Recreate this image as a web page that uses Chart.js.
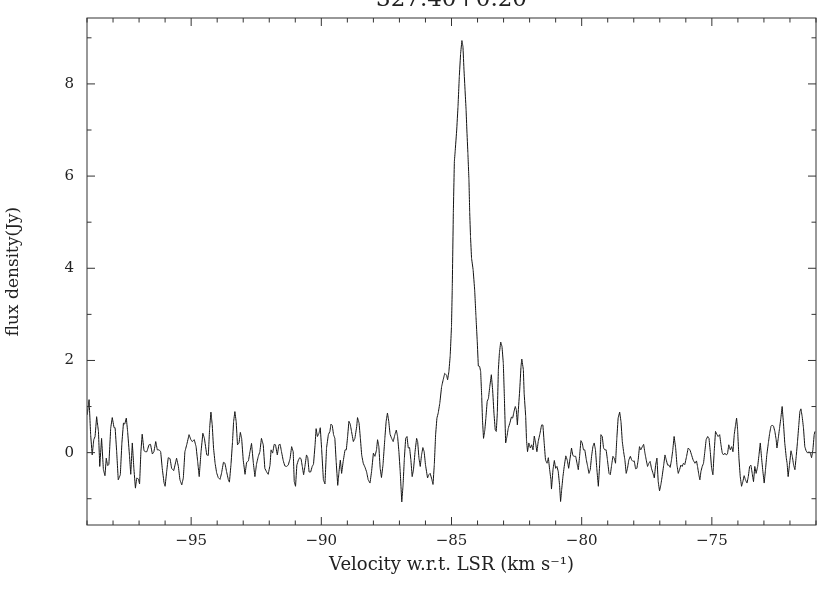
<!DOCTYPE html>
<html lang="en">
  <head>
    <meta charset="UTF-8" />
    <title>327.40+0.20</title>
    <style>
      html,
      body {
        margin: 0;
        padding: 0;
        background: #fff;
      }
      #wrap {
        position: relative;
        width: 822px;
        height: 596px;
      }
    </style>
  </head>
  <body>
    <div id="wrap"><canvas id="spectrum"></canvas></div>

    <script src="https://cdn.jsdelivr.net/npm/chart.js@4.4.0/dist/chart.umd.min.js"></script>
    <script>
      var sourceName = "327.40+0.20";

      // velocity (km/s) and flux density (Jy)
      var velocity = [
        -98.99, -98.92, -98.86, -98.80, -98.74, -98.69, -98.63, -98.56, -98.51, -98.44,
        -98.37, -98.31, -98.26, -98.21, -98.16, -98.09, -98.03, -97.96, -97.92, -97.86,
        -97.80, -97.72, -97.66, -97.60, -97.55, -97.49, -97.44, -97.37, -97.32, -97.26,
        -97.20, -97.14, -97.09, -97.03, -96.98, -96.93, -96.88, -96.81, -96.75, -96.70,
        -96.62, -96.56, -96.49, -96.43, -96.36, -96.30, -96.23, -96.17, -96.11, -96.04,
        -96.00, -95.94, -95.88, -95.81, -95.75, -95.67, -95.62, -95.56, -95.49, -95.43,
        -95.36, -95.30, -95.24, -95.17, -95.08, -95.01, -94.96, -94.88, -94.81, -94.75,
        -94.69, -94.62, -94.55, -94.49,
        -94.40, -94.34, -94.29, -94.24, -94.19, -94.14, -94.08, -94.02, -93.96, -93.89,
        -93.83, -93.76, -93.70, -93.64, -93.57, -93.53, -93.47, -93.41, -93.37, -93.32,
        -93.27, -93.22, -93.16, -93.11, -93.06, -93.00, -92.93, -92.87, -92.80, -92.74,
        -92.68, -92.61, -92.55, -92.49, -92.42, -92.36, -92.30, -92.23, -92.17, -92.10,
        -92.04, -91.97, -91.93, -91.87, -91.81, -91.76, -91.69, -91.63, -91.58, -91.53,
        -91.46, -91.40, -91.34, -91.27, -91.20, -91.14, -91.08, -91.04, -90.99, -90.94,
        -90.88, -90.83, -90.78, -90.73, -90.68, -90.63, -90.57, -90.52, -90.47, -90.41,
        -90.35, -90.30, -90.24, -90.20, -90.15, -90.09, -90.04, -89.99, -89.92, -89.86,
        -89.80, -89.73, -89.67, -89.63, -89.58, -89.53, -89.48, -89.43, -89.37, -89.32,
        -89.27, -89.22, -89.16, -89.09, -89.04, -88.99, -88.94, -88.89, -88.84, -88.77,
        -88.71, -88.64, -88.61, -88.55, -88.50, -88.45, -88.39, -88.32, -88.26, -88.20,
        -88.13, -88.07, -88.00, -87.94, -87.88, -87.84, -87.79, -87.74, -87.69, -87.63,
        -87.56, -87.51, -87.46, -87.41, -87.36, -87.30, -87.24, -87.17, -87.12, -87.07,
        -87.02, -86.97, -86.91, -86.86, -86.81, -86.76, -86.71, -86.66, -86.61, -86.56,
        -86.51, -86.46, -86.40, -86.34, -86.30, -86.25, -86.20, -86.15, -86.10, -86.05,
        -86.00, -85.92, -85.87, -85.82, -85.76, -85.71, -85.66, -85.61, -85.56, -85.51,
        -85.45, -85.38, -85.32, -85.26, -85.19, -85.15, -85.10, -85.05, -85.00, -84.97,
        -84.93, -84.89, -84.86, -84.80, -84.75, -84.70, -84.65, -84.60, -84.56, -84.52,
        -84.48, -84.44, -84.41, -84.37, -84.33, -84.30, -84.27, -84.23, -84.17, -84.11,
        -84.06, -84.01, -83.97, -83.92, -83.88, -83.84, -83.81, -83.77,
        -83.72, -83.68, -83.63, -83.58, -83.53, -83.47, -83.42, -83.37, -83.32, -83.28,
        -83.24, -83.20, -83.16, -83.11, -83.06, -83.01, -82.97, -82.92, -82.87, -82.82,
        -82.76, -82.70, -82.65, -82.60, -82.55, -82.51, -82.47, -82.44, -82.38, -82.33,
        -82.30, -82.24, -82.21, -82.15, -82.12, -82.08, -82.03, -81.97, -81.92, -81.87,
        -81.82, -81.77, -81.72, -81.67, -81.60, -81.54, -81.49, -81.44, -81.39, -81.33,
        -81.28, -81.23, -81.18, -81.16, -81.10, -81.05, -81.00, -80.95, -80.90, -80.85,
        -80.81, -80.77, -80.72, -80.67, -80.61, -80.55, -80.50,
        -80.39, -80.34, -80.29, -80.23, -80.18, -80.13, -80.08, -80.03, -79.98, -79.93,
        -79.88, -79.82, -79.77, -79.72, -79.67, -79.62, -79.57, -79.52, -79.47, -79.42,
        -79.36, -79.31, -79.26, -79.21, -79.16, -79.11, -79.06, -79.01, -78.95, -78.90,
        -78.85, -78.80, -78.75, -78.70, -78.65, -78.60, -78.54, -78.49, -78.44, -78.39,
        -78.34, -78.29, -78.24, -78.19, -78.13, -78.08, -78.03, -77.98, -77.93, -77.88,
        -77.83, -77.78, -77.73, -77.67, -77.62, -77.57, -77.52, -77.47, -77.42, -77.37,
        -77.32, -77.26, -77.21, -77.16, -77.11, -77.06, -77.01, -76.96, -76.91, -76.85,
        -76.80, -76.75, -76.70, -76.65, -76.60, -76.55, -76.50, -76.45, -76.39, -76.34,
        -76.29, -76.24, -76.19, -76.14, -76.09,
        -76.04, -75.97, -75.91, -75.84, -75.78, -75.72, -75.65, -75.59, -75.55, -75.50,
        -75.46, -75.42, -75.37, -75.32, -75.27, -75.22, -75.16, -75.11, -75.06, -75.01,
        -74.96, -74.91, -74.86, -74.81, -74.76, -74.70, -74.65, -74.60, -74.55, -74.50,
        -74.45, -74.40, -74.35, -74.29, -74.24, -74.19, -74.14, -74.09, -74.05, -74.01,
        -73.96, -73.91, -73.86, -73.81, -73.76, -73.71, -73.65, -73.60, -73.55, -73.50,
        -73.45, -73.40, -73.35, -73.30, -73.24, -73.19, -73.14, -73.09, -73.04, -72.99,
        -72.94, -72.89, -72.83, -72.78, -72.73, -72.68, -72.63, -72.58, -72.53, -72.50,
        -72.45, -72.40, -72.35, -72.30, -72.25, -72.20, -72.14, -72.11, -72.07, -72.02,
        -71.96, -71.91, -71.86, -71.81, -71.76, -71.71, -71.66, -71.62, -71.58, -71.53,
        -71.48, -71.43, -71.38, -71.32, -71.27, -71.22, -71.17, -71.12, -71.07, -71.04
      ];

      var flux = [
        0.82, 1.15, 0.39, -0.05, 0.28, 0.35, 0.78, 0.46, -0.30, 0.31,
        -0.37, -0.50, -0.12, -0.28, -0.26, 0.53, 0.76, 0.54, 0.54, 0.02,
        -0.59, -0.48, 0.21, 0.64, 0.62, 0.75, 0.46, -0.05, -0.47, 0.21,
        -0.34, -0.77, -0.55, -0.57, -0.68, 0.02, 0.40, 0.04, 0.02, 0.02,
        0.17, 0.18, -0.03, 0.02, 0.24, 0.06, 0.06, 0.02, -0.34, -0.66,
        -0.73, -0.41, -0.11, -0.13, -0.34, -0.39, -0.27, -0.12, -0.30, -0.59,
        -0.70, -0.55, 0.02, 0.17, 0.39, 0.28, 0.24, 0.28, 0.13, -0.19,
        -0.52, 0.02, 0.42, 0.31,
        -0.05, -0.06, 0.53, 0.88, 0.60, 0.10, -0.23, -0.44, -0.54, -0.58,
        -0.44, -0.21, -0.23, -0.41, -0.59, -0.64, -0.26, 0.24, 0.67, 0.89,
        0.67, 0.17, 0.21, 0.44, 0.31, -0.16, -0.47, -0.21, -0.18, 0.02,
        0.20, -0.23, -0.52, -0.25, -0.08, 0.02, 0.31, 0.17, -0.34, -0.42,
        -0.47, -0.27, 0.06, -0.01, 0.18, 0.17, -0.05, 0.17, 0.18, 0.02,
        -0.18, -0.29, -0.30, -0.27, -0.13, 0.13, 0.02, -0.63, -0.73, -0.27,
        -0.16, -0.11, -0.13, -0.30, -0.48, -0.30, -0.05, -0.11, -0.42, -0.42,
        -0.30, -0.25, 0.17, 0.52, 0.35, 0.42, 0.54, 0.10, -0.59, -0.68,
        0.10, 0.39, 0.46, 0.62, 0.59, 0.39, 0.31, -0.19, -0.71, -0.41,
        -0.16, -0.45, -0.19, 0.06, 0.06, 0.35, 0.68, 0.62, 0.46, 0.24,
        0.31, 0.57, 0.76, 0.64, 0.31, -0.05, -0.23, -0.32, -0.42, -0.59,
        -0.66, -0.41, -0.01, -0.08, 0.06, 0.28, 0.13, -0.34, -0.54, -0.26,
        0.31, 0.68, 0.86, 0.68, 0.40, 0.31, 0.24, 0.40, 0.49, 0.35,
        0.02, -0.41, -1.07, -0.70, -0.12, 0.31, 0.35, 0.10, 0.11, -0.16,
        -0.52, -0.37, 0.02, 0.31, 0.24, -0.12, -0.30, -0.05, 0.11, 0.02,
        -0.26, -0.55, -0.48, -0.45, -0.57, -0.69, -0.26, 0.39, 0.75, 0.86,
        1.07, 1.43, 1.58, 1.72, 1.68, 1.58, 1.76, 2.10, 2.74, 3.60,
        5.20, 6.32, 6.53, 7.00, 7.51, 8.16, 8.66, 8.94, 8.81, 8.30,
        7.87, 7.44, 7.00, 6.49, 5.92, 5.20, 4.69, 4.22, 3.97, 3.53,
        2.95, 2.40, 1.88, 1.87, 1.76, 1.22, 0.71, 0.31,
        0.49, 0.75, 1.11, 1.18, 1.43, 1.69, 1.36, 0.86, 0.49, 0.46,
        0.86, 1.80, 2.16, 2.40, 2.30, 1.94, 1.22, 0.21, 0.35, 0.53,
        0.64, 0.77, 0.75, 0.89, 1.00, 0.93, 0.60, 0.86, 1.36, 1.87,
        2.03, 1.80, 1.29, 0.78, 0.28, 0.02, 0.21, 0.10, 0.17, 0.06,
        0.36, 0.21, 0.02, 0.24, 0.42, 0.60, 0.60, 0.21, -0.16, -0.23,
        -0.11, -0.37, -0.59, -0.79, -0.36, -0.17, -0.34, -0.30, -0.41, -0.70,
        -1.06, -0.81, -0.52, -0.30, -0.07, -0.17, -0.34,
        0.10, -0.06, -0.08, -0.08, -0.23, -0.37, -0.08, 0.26, 0.21, 0.06,
        0.06, -0.16, -0.30, -0.45, -0.37, -0.08, 0.13, 0.21, 0.06, -0.34,
        -0.73, -0.27, 0.39, 0.35, 0.10, 0.06, 0.06, -0.16, -0.45, -0.48,
        -0.27, -0.08, -0.12, -0.23, 0.31, 0.75, 0.88, 0.67, 0.24, 0.02,
        -0.16, -0.45, -0.34, -0.16, -0.08, -0.16, -0.19, -0.18, -0.35, -0.34,
        -0.16, 0.13, 0.06, 0.13, 0.18, -0.01, -0.16, -0.30, -0.23, -0.19,
        -0.34, -0.45, -0.55, -0.27, -0.12, -0.63, -0.83, -0.70, -0.52, -0.27,
        -0.05, -0.16, -0.27, -0.27, -0.32, -0.16, 0.06, 0.35, 0.10, -0.27,
        -0.45, -0.37, -0.27, -0.30, -0.23,
        -0.26, -0.08, 0.10, 0.06, -0.05, -0.16, -0.23, -0.18, -0.30, -0.48,
        -0.59, -0.41, -0.30, -0.23, 0.02, 0.28, 0.35, 0.31, 0.02, -0.34,
        -0.48, 0.02, 0.46, 0.40, 0.35, 0.39, 0.17, -0.01, -0.05, -0.01,
        -0.05, -0.03, 0.17, 0.06, 0.13, 0.02, 0.39, 0.60, 0.75, 0.49,
        -0.12, -0.52, -0.73, -0.63, -0.50, -0.59, -0.66, -0.52, -0.30, -0.27,
        -0.45, -0.63, -0.30, -0.45, -0.30, -0.05, 0.21, -0.12, -0.41, -0.66,
        -0.37, -0.05, 0.21, 0.42, 0.57, 0.60, 0.57, 0.46, 0.28, 0.10,
        0.31, 0.53, 0.75, 1.00, 0.64, 0.21, -0.12, -0.23, -0.52, -0.27,
        0.04, -0.08, -0.27, -0.37, -0.08, 0.24, 0.60, 0.89, 0.95, 0.78,
        0.53, 0.13, 0.04, -0.01, 0.02, -0.01, -0.11, 0.06, 0.39, 0.46
      ];

      var xTicks = [-95, -90, -85, -80, -75];
      var yTicks = [0, 2, 4, 6, 8];
      var xRange = [-99, -71];
      var yRange = [-1.57, 9.43];

      var points = [];
      var n = Math.min(velocity.length, flux.length);
      for (var i = 0; i < n; i++) {
        points.push({ x: velocity[i], y: flux[i] });
      }

      function withMinus(v) {
        return v < 0 ? "\u2212" + Math.abs(v) : String(v);
      }

      // box round the plot, with inward ticks on all four sides, plus the title
      var frameTicks = {
        id: "frameTicks",
        afterDatasetsDraw: function (chart) {
          var ctx = chart.ctx;
          var a = chart.chartArea;
          var xs = chart.scales.x;
          var ys = chart.scales.y;
          ctx.save();
          ctx.strokeStyle = "#333";
          ctx.lineWidth = 1;
          ctx.strokeRect(a.left, a.top, a.right - a.left, a.bottom - a.top);
          ctx.beginPath();
          for (var v = Math.ceil(xs.min); v <= xs.max; v++) {
            var px = xs.getPixelForValue(v);
            var len = v % 5 === 0 ? 8 : 4.5;
            ctx.moveTo(px, a.bottom);
            ctx.lineTo(px, a.bottom - len);
            ctx.moveTo(px, a.top);
            ctx.lineTo(px, a.top + len);
          }
          for (var w = Math.ceil(ys.min); w <= ys.max; w++) {
            var py = ys.getPixelForValue(w);
            var len2 = w % 2 === 0 ? 8 : 4.5;
            ctx.moveTo(a.left, py);
            ctx.lineTo(a.left + len2, py);
            ctx.moveTo(a.right, py);
            ctx.lineTo(a.right - len2, py);
          }
          ctx.stroke();

          // title is mostly cut off by the top edge in the original
          ctx.fillStyle = "#222";
          ctx.font = "23px 'DejaVu Serif'";
          ctx.textAlign = "center";
          ctx.textBaseline = "alphabetic";
          ctx.fillText(sourceName, (a.left + a.right) / 2, 6);
          ctx.restore();
        },
      };

      var ctx = document.getElementById("spectrum").getContext("2d");
      var chart = new Chart(ctx, {
        type: "scatter",
        data: {
          datasets: [
            {
              data: points,
              showLine: true,
              borderColor: "#111",
              borderWidth: 1,
              pointRadius: 0,
              // tiny tension keeps Chart.js off its fast path (no column artefacts)
              tension: 0.001,
            },
          ],
        },
        options: {
          responsive: true,
          maintainAspectRatio: false,
          animation: false,
          layout: { padding: { top: 18, right: 6, left: 0, bottom: 0 } },
          plugins: {
            legend: { display: false },
            tooltip: { enabled: false },
          },
          scales: {
            x: {
              type: "linear",
              min: xRange[0],
              max: xRange[1],
              grid: { display: false, drawTicks: false },
              border: { display: false },
              afterBuildTicks: function (scale) {
                scale.ticks = xTicks.map(function (v) {
                  return { value: v };
                });
              },
              afterFit: function (scale) {
                scale.height = 71;
              },
              ticks: {
                padding: 7,
                color: "#222",
                font: { family: "'DejaVu Serif'", size: 15 },
                maxRotation: 0,
                callback: function (v) {
                  return withMinus(v);
                },
              },
              title: {
                display: true,
                text: "Velocity w.r.t. LSR (km s\u207B\u00B9)",
                color: "#222",
                font: { family: "'DejaVu Serif'", size: 18 },
                padding: { top: 0, bottom: 20 },
              },
            },
            y: {
              type: "linear",
              min: yRange[0],
              max: yRange[1],
              grid: { display: false, drawTicks: false },
              border: { display: false },
              afterBuildTicks: function (scale) {
                scale.ticks = yTicks.map(function (v) {
                  return { value: v };
                });
              },
              afterFit: function (scale) {
                // fixed width; drop the label padding so the top edge stays at 18px
                scale.width = 87;
                scale.paddingTop = 0;
                scale.paddingBottom = 0;
              },
              ticks: {
                padding: 13,
                color: "#222",
                font: { family: "'DejaVu Serif'", size: 15 },
                callback: function (v) {
                  return withMinus(v);
                },
              },
              title: {
                display: true,
                text: "flux density(Jy)",
                color: "#222",
                font: { family: "'DejaVu Serif'", size: 17 },
                padding: { top: 3, bottom: 0 },
              },
            },
          },
        },
        plugins: [frameTicks],
      });
    </script>
  </body>
</html>
